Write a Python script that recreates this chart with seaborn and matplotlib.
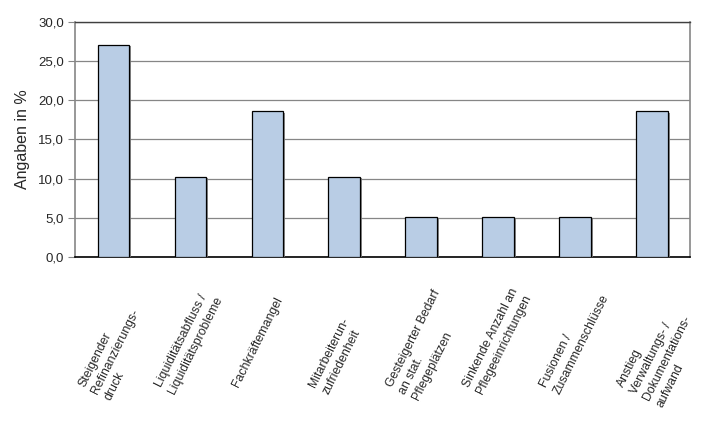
import matplotlib
matplotlib.use("Agg")
import matplotlib.pyplot as plt
import matplotlib.patheffects as pe
import matplotlib.transforms as mtransforms
from matplotlib.ticker import FuncFormatter
import seaborn as sns
import pandas as pd

# ── Data ───────────────────────────────────────────────────────────────────────
categories = [
    "Steigender\nRefinanzierungs-\ndruck",
    "Liquiditätsabfluss /\nLiquiditätsprobleme",
    "Fachkräftemangel",
    "Mitarbeiterun-\nzufriedenheit",
    "Gesteigerter Bedarf\nan stat.\nPflegeplätzen",
    "Sinkende Anzahl an\nPflegeeinrichtungen",
    "Fusionen /\nZusammenschlüsse",
    "Anstieg\nVerwaltungs- /\nDokumentations-\naufwand",
]
values = [27.1, 10.2, 18.6, 10.2, 5.1, 5.1, 5.1, 18.6]
yticks = [0, 5, 10, 15, 20, 25, 30]

df = pd.DataFrame({"kategorie": categories, "wert": values})

sns.set_style("white")
plt.rcParams["font.family"] = ["Liberation Sans", "DejaVu Sans"]

fig = plt.figure(figsize=(7.08, 4.21), dpi=100)
ax = fig.add_axes([0.106, 0.3895, 0.869, 0.5585])

sns.barplot(data=df, x="kategorie", y="wert", color="#B9CDE5", saturation=1,
            width=0.41, edgecolor="black", linewidth=0.9, ax=ax, zorder=3)

# Excel-style drop shadow on the bars
for bar in ax.patches:
    bar.set_path_effects([
        pe.SimplePatchShadow(offset=(1.5, -1), shadow_rgbFace="#7f7f7f", alpha=0.9),
        pe.Normal(),
    ])

ax.set_ylim(0, 30)
ax.set_xlim(-0.5, len(categories) - 0.5)
ax.set_yticks(yticks)
ax.yaxis.set_major_formatter(FuncFormatter(lambda v, _: f"{v:.1f}".replace(".", ",")))
ax.grid(axis="y", color="#868686", linewidth=0.9, zorder=0)
ax.set_axisbelow(True)

ax.set_xlabel("")
ax.set_ylabel("Angaben in %", fontsize=11.5, labelpad=6)
ax.tick_params(axis="y", length=5, color="#868686", labelsize=9.5, pad=3, left=True)

# rotated category labels, left-aligned lines, anchored at the first line start
xpos = ax.get_xticks()
ax.set_xticks(xpos)
ax.set_xticklabels([])
ax.tick_params(axis="x", length=0)
base = mtransforms.blended_transform_factory(ax.transData, ax.transAxes)
shift = mtransforms.ScaledTranslation(-37 / 100, -127 / 100, fig.dpi_scale_trans)
for x, lab in zip(xpos, categories):
    ax.text(x, 0, lab, transform=base + shift, rotation=63.5, rotation_mode="anchor",
            ha="left", va="top", multialignment="left", linespacing=1.3,
            fontsize=8.8, clip_on=False)

for side in ["left", "right"]:
    ax.spines[side].set_color("#868686")
    ax.spines[side].set_linewidth(1.2)
ax.spines["top"].set_color("#404040")
ax.spines["top"].set_linewidth(1.0)
ax.spines["bottom"].set_color("black")
ax.spines["bottom"].set_linewidth(1.2)

fig.savefig("out.png", dpi=100)
